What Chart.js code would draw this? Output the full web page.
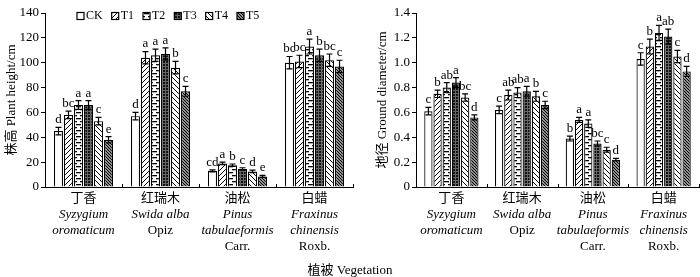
<!DOCTYPE html>
<html>
<head>
<meta charset="utf-8">
<script src="https://cdn.jsdelivr.net/npm/chart.js@4/dist/chart.umd.min.js"></script>
<style>
  body { margin: 0; background: #fff; width: 700px; height: 277px; position: relative; overflow: hidden; }
  #leftChart { position: absolute; left: 0; top: 0; }
  #rightChart { position: absolute; left: 356px; top: 0; }
  #xTitle { position: absolute; left: 0; top: 259px; width: 700px; text-align: center;
            font: 13px 'Liberation Serif', 'Noto Sans CJK SC'; color: #000; }
</style>
</head>
<body>
<canvas id="leftChart" width="356" height="277"></canvas>
<canvas id="rightChart" width="344" height="277"></canvas>
<div id="xTitle">植被 Vegetation</div>
<script>
const seriesNames = ['CK', 'T1', 'T2', 'T3', 'T4', 'T5'];
const speciesCn = ['丁香', '红瑞木', '油松', '白蜡'];
const speciesLatin = [['Syzygium', 'oromaticum'], ['Swida alba'], ['Pinus', 'tabulaeformis'], ['Fraxinus', 'chinensis']];
const speciesAuthor = ['', 'Opiz', 'Carr.', 'Roxb.'];

// plant height (cm), one row per treatment, one column per species
const heightMeans = [
  [45, 57, 13, 100],
  [58, 104, 19, 101],
  [66, 106, 17.5, 113],
  [66, 107, 14.5, 106],
  [53, 96, 12.5, 102],
  [38, 77, 8.5, 97]
];
const heightErrs = [
  [3, 3, 0.8, 5],
  [3, 5, 1, 5],
  [3.5, 5, 1, 6],
  [3.5, 5, 1, 5],
  [3, 5, 1, 5],
  [2.5, 4, 0.8, 5]
];
const heightLetters = [
  ['d', 'd', 'cd', 'bc'],
  ['bc', 'a', 'a', 'bc'],
  ['a', 'a', 'b', 'a'],
  ['a', 'a', 'c', 'b'],
  ['c', 'b', 'd', 'bc'],
  ['e', 'c', 'e', 'c']
];

// ground diameter (cm)
const diamMeans = [
  [0.61, 0.62, 0.39, 1.03],
  [0.75, 0.74, 0.54, 1.13],
  [0.80, 0.76, 0.51, 1.24],
  [0.84, 0.77, 0.35, 1.21],
  [0.72, 0.73, 0.30, 1.05],
  [0.56, 0.66, 0.22, 0.93]
];
const diamErrs = [
  [0.03, 0.03, 0.02, 0.05],
  [0.03, 0.04, 0.02, 0.06],
  [0.04, 0.04, 0.03, 0.06],
  [0.04, 0.04, 0.02, 0.06],
  [0.03, 0.04, 0.02, 0.05],
  [0.02, 0.03, 0.01, 0.04]
];
const diamLetters = [
  ['c', 'c', 'b', 'c'],
  ['b', 'ab', 'a', 'b'],
  ['ab', 'ab', 'a', 'a'],
  ['a', 'a', 'bc', 'ab'],
  ['bc', 'b', 'c', 'c'],
  ['d', 'c', 'd', 'd']
];

const serif = "'Liberation Serif', 'Noto Sans CJK SC'";

function makePattern(type) {
  const c = document.createElement('canvas');
  const ctx = c.getContext('2d');
  if (type === 'CK') {
    c.width = c.height = 4;
    ctx.fillStyle = '#fff'; ctx.fillRect(0, 0, 4, 4);
  } else if (type === 'T1' || type === 'T4' || type === 'T5') {
    const s = type === 'T5' ? 3 : 5;
    c.width = c.height = s;
    ctx.fillStyle = '#fff'; ctx.fillRect(0, 0, s, s);
    ctx.strokeStyle = '#000';
    ctx.lineWidth = type === 'T5' ? 1.3 : 1;
    ctx.beginPath();
    for (let k = -1; k <= 1; k++) {
      if (type === 'T1') { ctx.moveTo(k * s - 1, s + 1); ctx.lineTo(k * s + s + 1, -1); }
      else { ctx.moveTo(k * s - 1, -1); ctx.lineTo(k * s + s + 1, s + 1); }
    }
    ctx.stroke();
  } else if (type === 'T2') {
    c.width = 8; c.height = 6;
    ctx.fillStyle = '#fff'; ctx.fillRect(0, 0, 8, 6);
    ctx.fillStyle = '#000';
    ctx.fillRect(0, 1, 5, 1.3);
    ctx.fillRect(4, 4, 4, 1.3);
    ctx.fillRect(0, 4, 1, 1.3);
  } else if (type === 'T3') {
    c.width = c.height = 3;
    ctx.fillStyle = '#111'; ctx.fillRect(0, 0, 3, 3);
    ctx.fillStyle = '#666';
    ctx.fillRect(0, 0, 3, 1);
    ctx.fillRect(0, 0, 1, 3);
  }
  return ctx.createPattern(c, 'repeat');
}

const patterns = seriesNames.map(n => makePattern(n));

// error bars and significance letters
const errorBarPlugin = {
  id: 'errorBars',
  afterDatasetsDraw(chart, args, opts) {
    const ctx = chart.ctx;
    const y = chart.scales.y;
    ctx.save();
    ctx.strokeStyle = '#000';
    ctx.fillStyle = '#000';
    ctx.lineWidth = 1.2;
    ctx.font = '13px ' + serif;
    ctx.textAlign = 'center';
    ctx.textBaseline = 'bottom';
    chart.data.datasets.forEach((ds, di) => {
      const meta = chart.getDatasetMeta(di);
      meta.data.forEach((bar, i) => {
        const v = ds.data[i];
        const e = opts.errs[di][i];
        const top = y.getPixelForValue(v + e);
        const bot = y.getPixelForValue(v - e);
        ctx.beginPath();
        ctx.moveTo(bar.x, top); ctx.lineTo(bar.x, bot);
        ctx.moveTo(bar.x - 3, top); ctx.lineTo(bar.x + 3, top);
        ctx.moveTo(bar.x - 3, bot); ctx.lineTo(bar.x + 3, bot);
        ctx.stroke();
        ctx.fillText(opts.letters[di][i], bar.x, top - 1);
      });
    });
    ctx.restore();
  }
};

// species names under the x axis, Latin part in italics
const speciesLabelPlugin = {
  id: 'speciesLabels',
  afterDraw(chart) {
    const ctx = chart.ctx;
    const x = chart.scales.x;
    const base = chart.chartArea.bottom;
    ctx.save();
    ctx.fillStyle = '#000';
    ctx.textAlign = 'center';
    ctx.textBaseline = 'middle';
    // inner ticks between groups
    ctx.strokeStyle = '#000';
    ctx.lineWidth = 1;
    const half = (x.getPixelForValue(1) - x.getPixelForValue(0)) / 2;
    ctx.beginPath();
    for (let i = 0; i <= speciesCn.length; i++) {
      const px = Math.round(x.getPixelForValue(i) - half) + 0.5;
      ctx.moveTo(px, base); ctx.lineTo(px, base - 3);
    }
    ctx.stroke();
    speciesCn.forEach((name, i) => {
      const px = x.getPixelForValue(i);
      let ly = base + 12;
      ctx.font = '13px ' + serif;
      ctx.fillText(name, px, ly);
      ctx.font = 'italic 13px ' + serif;
      speciesLatin[i].forEach(t => { ly += 16; ctx.fillText(t, px, ly); });
      if (speciesAuthor[i]) {
        ly += 16;
        ctx.font = '13px ' + serif;
        ctx.fillText(speciesAuthor[i], px, ly);
      }
    });
    ctx.restore();
  }
};

// legend inside the plot area of the left panel
const innerLegendPlugin = {
  id: 'innerLegend',
  afterDraw(chart, args, opts) {
    if (!opts.show) return;
    const ctx = chart.ctx;
    ctx.save();
    ctx.font = '12px ' + serif;
    ctx.textBaseline = 'middle';
    ctx.fillStyle = '#000';
    let lx = 77;
    const ly = 16;
    chart.data.datasets.forEach((ds, di) => {
      ctx.fillStyle = ds.backgroundColor;
      ctx.fillRect(lx, ly - 3.5, 7, 7);
      ctx.strokeStyle = '#000';
      ctx.lineWidth = 1.2;
      ctx.strokeRect(lx, ly - 3.5, 7, 7);
      ctx.fillStyle = '#000';
      ctx.fillText(ds.label, lx + 9, ly);
      lx += 9 + ctx.measureText(ds.label).width + 9;
    });
    ctx.restore();
  }
};

function makeChart(canvasId, means, errs, letters, yMax, yStep, yTitle, padLeft, padRight, showLegend) {
  const ctx = document.getElementById(canvasId).getContext('2d');
  return new Chart(ctx, {
    type: 'bar',
    data: {
      labels: speciesCn,
      datasets: seriesNames.map((name, di) => ({
        label: name,
        data: means[di],
        backgroundColor: patterns[di],
        borderColor: '#000',
        borderWidth: 1.2,
        borderSkipped: 'bottom',
        categoryPercentage: 0.78,
        barPercentage: 0.9
      }))
    },
    options: {
      responsive: false,
      animation: false,
      devicePixelRatio: 1,
      layout: { padding: { left: padLeft, right: padRight, top: 13, bottom: 0 } },
      plugins: {
        legend: { display: false },
        tooltip: { enabled: false },
        errorBars: { errs, letters },
        innerLegend: { show: showLegend }
      },
      scales: {
        x: {
          grid: { display: true, drawOnChartArea: false, drawTicks: false },
          border: { display: true, color: '#000', width: 1 },
          ticks: { display: false },
          afterFit: s => { s.height = 90; }
        },
        y: {
          min: 0,
          max: yMax,
          grid: { drawOnChartArea: false, drawTicks: true, tickLength: 4, color: '#000' },
          border: { display: true, color: '#000', width: 1 },
          ticks: {
            stepSize: yStep,
            color: '#000',
            padding: 2,
            font: { family: serif, size: 13 },
            callback: v => (yStep < 1 ? (v === 0 ? '0' : v.toFixed(1)) : v)
          },
          title: { display: true, text: yTitle, color: '#000', font: { family: serif, size: 13 }, padding: { top: 4, bottom: 2 } },
          afterFit: s => { s.width = 45; }
        }
      }
    },
    plugins: [errorBarPlugin, speciesLabelPlugin, innerLegendPlugin]
  });
}

makeChart('leftChart', heightMeans, heightErrs, heightLetters, 140, 20, '株高 Plant height/cm', 0, 3, true);
makeChart('rightChart', diamMeans, diamErrs, diamLetters, 1.4, 0.2, '地径 Ground diameter/cm', 15, 1, false);
</script>
</body>
</html>
